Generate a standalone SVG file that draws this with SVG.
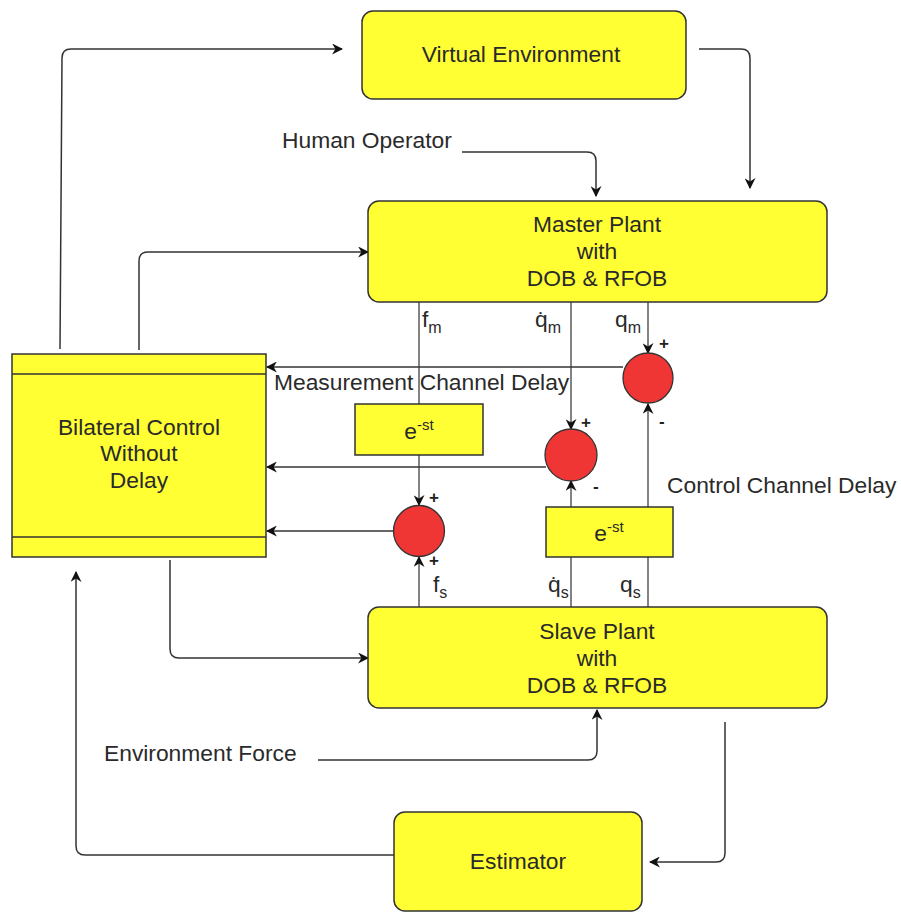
<svg xmlns="http://www.w3.org/2000/svg" width="901" height="912" viewBox="0 0 901 912">
  <defs>
    <style>
      .blk { fill: #ffff33; stroke: #333; stroke-width: 1.5; }
      .sum { fill: #f03535; stroke: #333; stroke-width: 1.3; }
      .lbl { font-family: "Liberation Sans", Arial, sans-serif; font-size: 22.8px; fill: #2a2a2a; }
      .mid { text-anchor: middle; }
      .sgn { font-family: "Liberation Sans", Arial, sans-serif; font-size: 17px; fill: #222; font-weight: bold; }
      .wire { fill: none; stroke: #333; stroke-width: 1.5; }
      .sig { fill: none; stroke: #5a5a5a; stroke-width: 1.5; }
    </style>
    <marker id="arrL" viewBox="0 0 10 10" refX="9" refY="5" markerWidth="11" markerHeight="11" orient="auto" markerUnits="userSpaceOnUse">
      <path d="M0,0 L10,5 L0,10 L3,5 Z" fill="#111"/>
    </marker>
  </defs>

  <!-- connectors -->
  <g id="connectors">
    <path class="wire" d="M60,349 L62,58 Q62,49 71,49 L342,49" marker-end="url(#arrL)"/>
    <path class="wire" d="M699,49 L741,49 Q750,49 750,58 L750,188" marker-end="url(#arrL)"/>
    <path class="wire" d="M462,152 L587,152 Q596,152 596,161 L596,196" marker-end="url(#arrL)"/>
    <path class="wire" d="M139,350 L139,261 Q139,252 148,252 L368,252" marker-end="url(#arrL)"/>
    <path class="wire" d="M170,560 L170,649 Q170,658 179,658 L368,658" marker-end="url(#arrL)"/>
    <path class="wire" d="M318,760 L588,760 Q597,760 597,751 L597,710" marker-end="url(#arrL)"/>
    <path class="wire" d="M725,722 L725,853 Q725,862 716,862 L650,862" marker-end="url(#arrL)"/>
    <path class="wire" d="M394,855 L85,855 Q76,855 76,846 L76,572" marker-end="url(#arrL)"/>

    <!-- measured signals from master -->
    <path class="sig" d="M419,302 L419,404"/>
    <path class="sig" d="M419,455 L419,505" marker-end="url(#arrL)"/>
    <path class="sig" d="M571,302 L571,429" marker-end="url(#arrL)"/>
    <path class="sig" d="M648,302 L648,353" marker-end="url(#arrL)"/>

    <!-- signals from slave -->
    <path class="sig" d="M419,607 L419,557" marker-end="url(#arrL)"/>
    <path class="sig" d="M571,607 L571,481" marker-end="url(#arrL)"/>
    <path class="sig" d="M648,607 L648,404" marker-end="url(#arrL)"/>

    <!-- sums to bilateral controller -->
    <path class="wire" d="M623,367 L267,367" marker-end="url(#arrL)"/>
    <path class="wire" d="M546,467 L267,467" marker-end="url(#arrL)"/>
    <path class="wire" d="M393,531 L267,531" marker-end="url(#arrL)"/>
  </g>

  <g id="virtual-environment">
    <rect class="blk" x="362" y="11" width="324" height="88" rx="11"/>
    <text class="lbl mid" x="521" y="62">Virtual Environment</text>
  </g>

  <g id="human-operator">
    <text class="lbl" x="282" y="148">Human Operator</text>
  </g>

  <g id="master-plant">
    <rect class="blk" x="368" y="201" width="459" height="101" rx="11"/>
    <text class="lbl mid" x="597" y="232">Master Plant</text>
    <text class="lbl mid" x="597" y="259">with</text>
    <text class="lbl mid" x="597" y="286">DOB &amp; RFOB</text>
  </g>

  <g id="bilateral-control">
    <rect class="blk" x="12" y="354" width="254" height="203"/>
    <line x1="12" y1="374" x2="266" y2="374" stroke="#333" stroke-width="1.5"/>
    <line x1="12" y1="537" x2="266" y2="537" stroke="#333" stroke-width="1.5"/>
    <text class="lbl mid" x="139" y="435">Bilateral Control</text>
    <text class="lbl mid" x="139" y="461">Without</text>
    <text class="lbl mid" x="139" y="488">Delay</text>
  </g>

  <g id="measurement-delay">
    <rect class="blk" x="355" y="404" width="128" height="51"/>
    <text class="lbl mid" x="419" y="439">e<tspan dy="-9" font-size="15">-st</tspan></text>
  </g>

  <g id="measurement-label">
    <text class="lbl" x="274" y="390">Measurement Channel Delay</text>
  </g>

  <g id="control-delay">
    <rect class="blk" x="546" y="507" width="127" height="50"/>
    <text class="lbl mid" x="609" y="541">e<tspan dy="-9" font-size="15">-st</tspan></text>
  </g>

  <g id="control-label">
    <text class="lbl" x="667" y="493">Control Channel Delay</text>
  </g>

  <g id="sum-position">
    <circle class="sum" cx="648" cy="378" r="25"/>
    <text class="sgn" x="659" y="349">+</text>
    <text class="sgn" x="659" y="427">-</text>
  </g>

  <g id="sum-velocity">
    <circle class="sum" cx="571" cy="455" r="26"/>
    <text class="sgn" x="581" y="428">+</text>
    <text class="sgn" x="593" y="492">-</text>
  </g>

  <g id="sum-force">
    <circle class="sum" cx="419" cy="531" r="25.5"/>
    <text class="sgn" x="429" y="503">+</text>
    <text class="sgn" x="429" y="566">+</text>
  </g>

  <g id="signal-labels">
    <text class="lbl" x="422" y="327">f<tspan dy="6" font-size="16">m</tspan></text>
    <text class="lbl" x="535" y="327">q&#x307;<tspan dy="6" font-size="16">m</tspan></text>
    <text class="lbl" x="615" y="327">q<tspan dy="6" font-size="16">m</tspan></text>
    <text class="lbl" x="433" y="592">f<tspan dy="6" font-size="16">s</tspan></text>
    <text class="lbl" x="548" y="592">q&#x307;<tspan dy="6" font-size="16">s</tspan></text>
    <text class="lbl" x="620" y="592">q<tspan dy="6" font-size="16">s</tspan></text>
  </g>

  <g id="slave-plant">
    <rect class="blk" x="368" y="607" width="459" height="101" rx="11"/>
    <text class="lbl mid" x="597" y="639">Slave Plant</text>
    <text class="lbl mid" x="597" y="666">with</text>
    <text class="lbl mid" x="597" y="693">DOB &amp; RFOB</text>
  </g>

  <g id="environment-force">
    <text class="lbl" x="104" y="761">Environment Force</text>
  </g>

  <g id="estimator">
    <rect class="blk" x="394" y="812" width="248" height="99" rx="11"/>
    <text class="lbl mid" x="518" y="869">Estimator</text>
  </g>
</svg>
